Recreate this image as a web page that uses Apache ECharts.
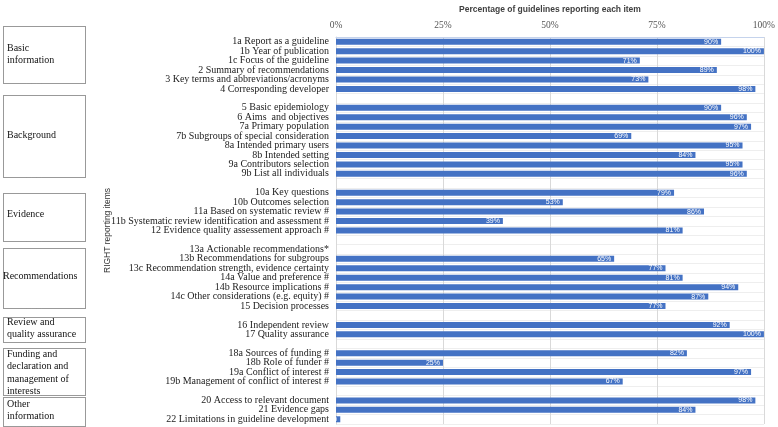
<!DOCTYPE html>
<html>
<head>
<meta charset="utf-8">
<script src="https://cdn.jsdelivr.net/npm/echarts@6/dist/echarts.min.js"></script>
<style>
  html, body { margin: 0; padding: 0; background: #fff; }
  #chart { width: 778px; height: 427px; }
</style>
</head>
<body>
<div id="chart"></div>
<script>
// RIGHT items, one small list per domain
var basicItems = ['1a Report as a guideline', '1b Year of publication', '1c Focus of the guideline',
  '2 Summary of recommendations', '3 Key terms and abbreviations/acronyms', '4 Corresponding developer'];
var basicValues = [90, 100, 71, 89, 73, 98];

var backgroundItems = ['5 Basic epidemiology', '6 Aims  and objectives', '7a Primary population',
  '7b Subgroups of special consideration', '8a Intended primary users', '8b Intended setting',
  '9a Contributors selection', '9b List all individuals'];
var backgroundValues = [90, 96, 97, 69, 95, 84, 95, 96];

var evidenceItems = ['10a Key questions', '10b Outcomes selection', '11a Based on systematic review #',
  '11b Systematic review identification and assessment #', '12 Evidence quality assessement approach #'];
var evidenceValues = [79, 53, 86, 39, 81];

var recItems = ['13a Actionable recommendations*', '13b Recommendations for subgroups',
  '13c Recommendation strength, evidence certainty', '14a Value and preference #',
  '14b Resource implications #', '14c Other considerations (e.g. equity) #', '15 Decision processes'];
var recValues = [null, 65, 77, 81, 94, 87, 77];

var reviewItems = ['16 Independent review', '17 Quality assurance'];
var reviewValues = [92, 100];

var fundingItems = ['18a Sources of funding #', '18b Role of funder #', '19a Conflict of interest #',
  '19b Management of conflict of interest #'];
var fundingValues = [82, 25, 97, 67];

var otherItems = ['20 Access to relevant document', '21 Evidence gaps', '22 Limitations in guideline development'];
var otherValues = [98, 84, 1];

var domainNames = ['Basic\ninformation', 'Background', 'Evidence', 'Recommendations',
  'Review and\nquality assurance', 'Funding and\ndeclaration and\nmanagement of\ninterests', 'Other\ninformation'];

var xTicks = [0, 25, 50, 75, 100];

// join the domains, a blank row between each
var groups = [
  [basicItems, basicValues], [backgroundItems, backgroundValues], [evidenceItems, evidenceValues],
  [recItems, recValues], [reviewItems, reviewValues], [fundingItems, fundingValues], [otherItems, otherValues]
];
var cats = [], vals = [];
groups.forEach(function (g, i) {
  g[0].forEach(function (name, j) {
    cats.push(name);
    vals.push(g[1][j]);
  });
  if (i < groups.length - 1) {
    cats.push(new Array(i + 2).join(' '));
    vals.push(null);
  }
});

// domain boxes on the left (top, bottom, text top, line height)
var boxes = [
  [24, 81, 42, 12], [93, 175, 129, 12], [191, 239, 208, 12], [246, 306, 270, 12],
  [315, 340, 316, 12.5], [346, 393, 348, 12.5], [395, 424, 398, 12.5]
];
var graphics = [];
boxes.forEach(function (b, i) {
  graphics.push({
    type: 'rect', left: 1, top: b[0],
    shape: { width: 82, height: b[1] - b[0] },
    style: { fill: 'none', stroke: '#333', lineWidth: 1, lineDash: [1, 1] }
  });
  graphics.push({
    type: 'text', left: i == 3 ? 3 : 7, top: b[2],
    style: {
      text: domainNames[i], fill: '#111', fontSize: 10,
      fontFamily: 'Liberation Serif', lineHeight: b[3]
    }
  });
});

var myChart = echarts.init(document.getElementById('chart'));
var option = {
  animation: false,
  grid: { left: 336, right: 10, top: 28, bottom: 3 },
  graphic: graphics,
  xAxis: {
    type: 'value', position: 'top',
    min: xTicks[0], max: xTicks[xTicks.length - 1], interval: 25,
    name: 'Percentage of guidelines reporting each item',
    nameLocation: 'middle', nameGap: 23,
    nameTextStyle: { fontSize: 8.5, fontWeight: 'bold', color: '#404040', fontFamily: 'Liberation Sans' },
    axisLine: { show: true, lineStyle: { color: '#c5d3ec' } },
    axisTick: { show: false },
    axisLabel: { formatter: '{value}%', fontSize: 9.5, color: '#555', fontFamily: 'Liberation Serif', margin: 7 },
    splitLine: { lineStyle: { color: '#d9d9d9' } }
  },
  yAxis: {
    type: 'category', inverse: true, data: cats,
    name: 'RIGHT reporting items', nameLocation: 'middle', nameGap: 224, nameMoveOverlap: false,
    nameTextStyle: { fontSize: 8.5, color: '#333', fontFamily: 'Liberation Sans' },
    axisLine: { show: true, lineStyle: { color: '#d9d9d9' } },
    axisTick: { show: false },
    axisLabel: { fontSize: 10, color: '#222', fontFamily: 'Liberation Serif', margin: 7, interval: 0 },
    splitLine: { show: true, lineStyle: { color: '#eeeeee' } }
  },
  series: [{
    type: 'bar', data: vals, barWidth: 6,
    itemStyle: { color: '#4472C4' },
    label: {
      show: true, position: 'insideRight', formatter: '{c}%',
      fontSize: 7, color: '#fff', fontFamily: 'Liberation Sans', distance: 3
    }
  }]
};
myChart.setOption(option);
</script>
</body>
</html>
